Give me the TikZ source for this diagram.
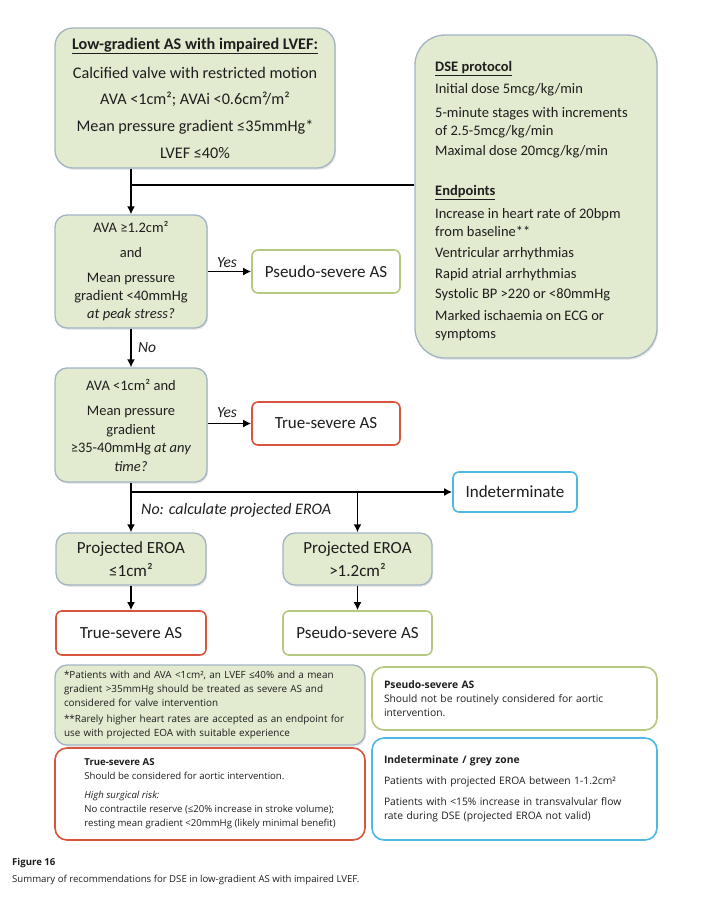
\documentclass[tikz,border=0pt]{standalone}
\usepackage{fontspec}
\setmainfont{Carlito}
\newfontfamily\osans{Open Sans}
\usetikzlibrary{arrows.meta,shadows}
\definecolor{boxgreen}{HTML}{E2EACF}
\definecolor{boxedge}{HTML}{A2B3C3}
\definecolor{olivec}{HTML}{B4C882}
\definecolor{redc}{HTML}{D9543C}
\definecolor{bluec}{HTML}{4DB8E2}
\definecolor{txt}{HTML}{1E1E1E}
\tikzset{
  gbox/.style={draw=boxedge, fill=boxgreen, line width=1.3pt, rounded corners=12pt, inner sep=0pt, align=center, text=txt,
    drop shadow={opacity=0.18, shadow xshift=1.2pt, shadow yshift=-1.8pt}},
  resbox/.style={fill=white, line width=1.6pt, rounded corners=6pt, inner sep=0pt, align=center, text=txt, font=\fontsize{17}{20}\selectfont},
  notebox/.style={fill=white, line width=1.6pt, rounded corners=12pt, inner ysep=0pt, align=left, text=txt},
  arr/.style={-{Latex[length=8pt,width=8pt]}, line width=1.6pt},
  conn/.style={line width=1.6pt},
  lbl/.style={font=\itshape\fontsize{15.5}{18}\selectfont, text=txt, inner sep=1pt}
}
\begin{document}
\begin{tikzpicture}[x=1pt,y=-1pt]
\useasboundingbox (0,0) rectangle (710,903);
% top box
\node[gbox, rounded corners=18pt, minimum width=280pt, minimum height=140pt, font=\fontsize{16.2}{27}\selectfont] (top) at (195,98)
  {\textbf{\underline{Low-gradient AS with impaired LVEF:}}\\[2pt]
   Calcified valve with restricted motion\\[-1pt]
   AVA <1cm²; AVAi <0.6cm²/m²\\
   Mean pressure gradient ≤35mmHg*\\
   LVEF ≤40\%};
% DSE box
\node[gbox, rounded corners=30pt, minimum width=242pt, minimum height=323pt] (dse) at (536,196.5) {};
\node[anchor=north west, inner sep=0pt, align=left, text=txt, font=\fontsize{14.5}{18}\selectfont] (dsetxt) at (435,61.5)
  {\textbf{\underline{DSE protocol}}\\[4pt]
   Initial dose 5mcg/kg/min\\[6pt]
   5-minute stages with increments\\
   of 2.5-5mcg/kg/min\\[2pt]
   Maximal dose 20mcg/kg/min\\[22pt]
   \textbf{\underline{Endpoints}}\\[5pt]
   Increase in heart rate of 20bpm\\
   from baseline**\\[3pt]
   Ventricular arrhythmias\\[3pt]
   Rapid atrial arrhythmias\\[2pt]
   Systolic BP >220 or <80mmHg\\[4pt]
   Marked ischaemia on ECG or\\
   symptoms};
% decision boxes
\node[gbox, minimum width=152pt, minimum height=113pt, font=\fontsize{14.5}{18}\selectfont] (b2) at (131,271.5)
  {AVA ≥1.2cm²\\[7pt]
   and\\[7pt]
   Mean pressure\\
   gradient <40mmHg\\
   \textit{at peak stress?}};
\node[gbox, minimum width=152pt, minimum height=114pt, font=\fontsize{14.5}{18.5}\selectfont] (b3) at (131,425)
  {AVA <1cm² and\\[7pt]
   Mean pressure\\
   gradient\\
   ≥35-40mmHg \textit{at any}\\
   \textit{time?}};
% result boxes
\node[resbox, draw=olivec, minimum width=148pt, minimum height=43pt] (ps1) at (326,271.5) {Pseudo-severe AS};
\node[resbox, draw=redc, minimum width=148pt, minimum height=43pt] (ts1) at (326,423.5) {True-severe AS};
\node[resbox, draw=bluec, minimum width=124pt, minimum height=40pt] (ind) at (515,492) {Indeterminate};
\node[gbox, minimum width=150pt, minimum height=52pt, font=\fontsize{17}{23}\selectfont] (pe1) at (131,559) {Projected EROA\\≤1cm²};
\node[gbox, minimum width=149pt, minimum height=52pt, font=\fontsize{17}{23}\selectfont] (pe2) at (357.5,559) {Projected EROA\\>1.2cm²};
\node[resbox, draw=redc, minimum width=150pt, minimum height=44pt] (ts2) at (131,633) {True-severe AS};
\node[resbox, draw=olivec, minimum width=149pt, minimum height=44pt] (ps2) at (357.5,633) {Pseudo-severe AS};
% notes
\node[notebox, draw=boxedge, fill=boxgreen, line width=1.3pt, text width=292pt, inner xsep=9pt, minimum height=80pt, font=\osans\fontsize{9.9}{13.6}\selectfont,
      drop shadow={opacity=0.18, shadow xshift=1.2pt, shadow yshift=-1.8pt}] (n1) at (210,705)
  {*Patients with and AVA <1cm², an LVEF ≤40\% and a mean\\
   gradient >35mmHg should be treated as severe AS and\\
   considered for valve intervention\\[3pt]
   **Rarely higher heart rates are accepted as an endpoint for\\
   use with projected EOA with suitable experience};
\node[notebox, draw=olivec, text width=261pt, inner xsep=12pt, minimum height=63pt, font=\osans\fontsize{10.3}{14}\selectfont] (n2) at (514.5,698.5)
  {\textbf{Pseudo-severe AS}\\
   Should not be routinely considered for aortic\\
   intervention.};
\node[notebox, draw=redc, inner xsep=0pt, minimum width=310pt, minimum height=92pt, font=\osans\fontsize{9.6}{14}\selectfont] (n3) at (210,794)
  {\textbf{True-severe AS}\\
   Should be considered for aortic intervention.\\[5pt]
   \textit{High surgical risk:}\\
   No contractile reserve (≤20\% increase in stroke volume);\\
   resting mean gradient <20mmHg (likely minimal benefit)};
\node[notebox, draw=bluec, text width=261pt, inner xsep=12pt, minimum height=102pt, font=\osans\fontsize{10.3}{13.5}\selectfont] (n4) at (514.5,789)
  {\textbf{Indeterminate / grey zone}\\[7pt]
   Patients with projected EROA between 1-1.2cm²\\[8pt]
   Patients with <15\% increase in transvalvular flow\\
   rate during DSE (projected EROA not valid)};
% caption
\node[anchor=north west, inner sep=0pt, align=left, font=\osans\fontsize{9.6}{16.5}\selectfont, text=txt] (cap) at (12,858)
  {\textbf{Figure 16}\\
   Summary of recommendations for DSE in low-gradient AS with impaired LVEF.};
% connectors
\coordinate (j1) at (b2.north |- 0,185);
\draw[arr] (b2.north |- top.south) -- (b2.north);
\draw[conn] (j1) -- (j1 -| dse.west);
\draw[arr] (b2.east |- ps1.west) -- (ps1.west);
\node[lbl, anchor=south] (yes1) at (227,269) {Yes};
\draw[arr] (b2.south) -- (b3.north);
\node[lbl, anchor=west] (no1) at (137,348) {No};
\draw[arr] (b3.east |- ts1.west) -- (ts1.west);
\node[lbl, anchor=south] (yes2) at (227,419) {Yes};
\coordinate (j2) at (b3.south |- ind.west);
\coordinate (j3) at (pe2.north |- j2);
\draw[conn] (b3.south) -- (j2);
\draw[arr] (j2) -- (pe1.north);
\draw[arr] (j2) -- (ind.west);
\draw[arr] (j3) -- (pe2.north);
\node[lbl, anchor=west, font=\itshape\fontsize{16}{18}\selectfont] (nocalc) at (140,510) {No: calculate projected EROA};
\draw[arr] (pe1.south) -- (ts2.north);
\draw[arr] (pe2.south) -- (ps2.north);
\end{tikzpicture}
\end{document}
